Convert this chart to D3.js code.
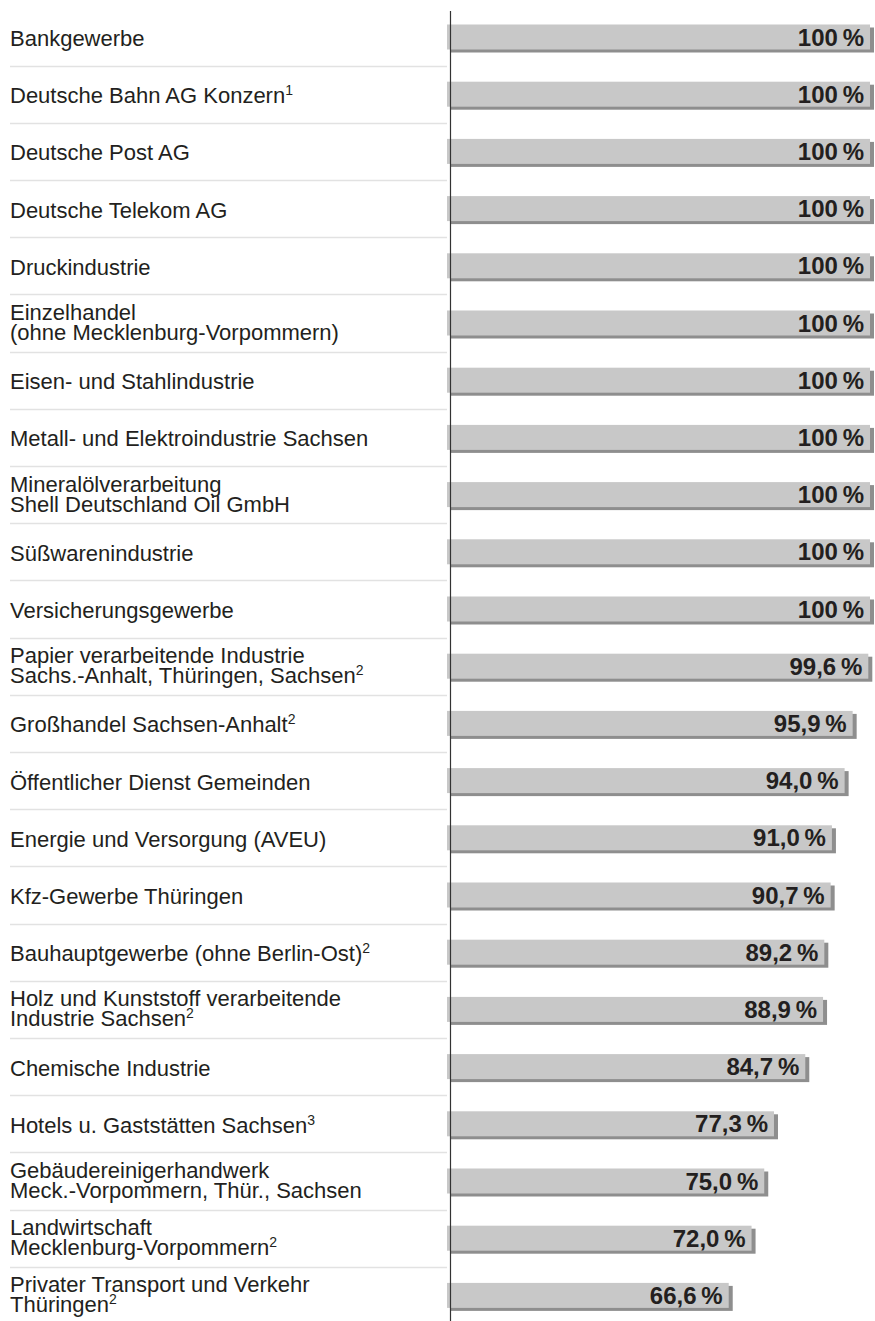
<!DOCTYPE html>
<html>
<head>
<meta charset="utf-8">
<script src="https://cdn.jsdelivr.net/npm/d3@7"></script>
<style>
  body { margin: 0; background: #fff; }
  svg { display: block; font-family: "Liberation Sans", Arial, sans-serif; }
</style>
</head>
<body>
<div id="chart"></div>
<script>
// label lines per row, footnote marks and values (percent)
const labels = [
  ["Bankgewerbe"],
  ["Deutsche Bahn AG Konzern"],
  ["Deutsche Post AG"],
  ["Deutsche Telekom AG"],
  ["Druckindustrie"],
  ["Einzelhandel", "(ohne Mecklenburg-Vorpommern)"],
  ["Eisen- und Stahlindustrie"],
  ["Metall- und Elektroindustrie Sachsen"],
  ["Mineralölverarbeitung", "Shell Deutschland Oil GmbH"],
  ["Süßwarenindustrie"],
  ["Versicherungsgewerbe"],
  ["Papier verarbeitende Industrie", "Sachs.-Anhalt, Thüringen, Sachsen"],
  ["Großhandel Sachsen-Anhalt"],
  ["Öffentlicher Dienst Gemeinden"],
  ["Energie und Versorgung (AVEU)"],
  ["Kfz-Gewerbe Thüringen"],
  ["Bauhauptgewerbe (ohne Berlin-Ost)"],
  ["Holz und Kunststoff verarbeitende", "Industrie Sachsen"],
  ["Chemische Industrie"],
  ["Hotels u. Gaststätten Sachsen"],
  ["Gebäudereinigerhandwerk", "Meck.-Vorpommern, Thür., Sachsen"],
  ["Landwirtschaft", "Mecklenburg-Vorpommern"],
  ["Privater Transport und Verkehr", "Thüringen"]
];
const footnotes = ["", "1", "", "", "", "", "", "", "", "", "", "2", "2", "", "", "", "2", "2", "", "3", "", "2", "2"];
const values = [100, 100, 100, 100, 100, 100, 100, 100, 100, 100, 100, 99.6, 95.9, 94.0, 91.0, 90.7, 89.2, 88.9, 84.7, 77.3, 75.0, 72.0, 66.6];

const width = 875, height = 1321;
const rows = labels.map((l, i) => ({ i, lines: l, note: footnotes[i], value: values[i] }));

const x = d3.scaleLinear().domain([0, 100]).range([447, 870]);
const y = d3.scaleBand().domain(d3.range(rows.length)).range([8.4, 8.4 + rows.length * 57.2]);
const barH = 25;
const fmt = (v) => (v === 100 ? "100" : d3.format(".1f")(v).replace(".", ",")) + "\u2009%";

const svg = d3.select("#chart").append("svg")
  .attr("width", width)
  .attr("height", height);

// row separators
svg.append("g")
  .selectAll("line")
  .data(rows.slice(1))
  .join("line")
  .attr("x1", 10)
  .attr("x2", x(0))
  .attr("y1", (d) => Math.round(y(d.i)) + 0.5)
  .attr("y2", (d) => Math.round(y(d.i)) + 0.5)
  .attr("stroke", "#e2e2e2")
  .attr("stroke-width", 1.5);

const bars = svg.append("g")
  .selectAll("g")
  .data(rows)
  .join("g")
  .attr("transform", (d) => `translate(0,${y(d.i) + y.bandwidth() / 2 - barH / 2})`);

// shadow
bars.append("rect")
  .attr("x", x(0) + 4)
  .attr("y", 3)
  .attr("width", (d) => x(d.value) - x(0))
  .attr("height", barH)
  .attr("fill", "#8e8e8e");

// axis line
svg.append("line")
  .attr("x1", 450.5).attr("x2", 450.5)
  .attr("y1", 11).attr("y2", height)
  .attr("stroke", "#333")
  .attr("stroke-width", 1.2);

bars.append("rect")
  .attr("x", x(0))
  .attr("width", (d) => x(d.value) - x(0))
  .attr("height", barH)
  .attr("fill", "#c8c8c8");

bars.append("text")
  .attr("x", (d) => x(d.value) - 6)
  .attr("y", barH / 2 + 8.5)
  .attr("text-anchor", "end")
  .attr("font-size", 24)
  .attr("font-weight", "bold")
  .attr("fill", "#231f20")
  .text((d) => fmt(d.value));

// category labels
const lineH = 20;
const lab = svg.append("g")
  .selectAll("text")
  .data(rows)
  .join("text")
  .attr("font-size", 22)
  .attr("fill", "#231f20");

lab.each(function (d) {
  const t = d3.select(this);
  const cy = y(d.i) + y.bandwidth() / 2;
  const n = d.lines.length;
  d.lines.forEach((line, k) => {
    const base = cy - ((n - 1) * lineH) / 2 + k * lineH + (n > 1 ? 7 : 9);
    t.append("tspan").attr("x", 10).attr("y", base).text(line);
    if (k === n - 1 && d.note) {
      t.append("tspan")
        .attr("font-size", 14)
        .attr("dy", -8)
        .text(d.note);
    }
  });
});
</script>
</body>
</html>
